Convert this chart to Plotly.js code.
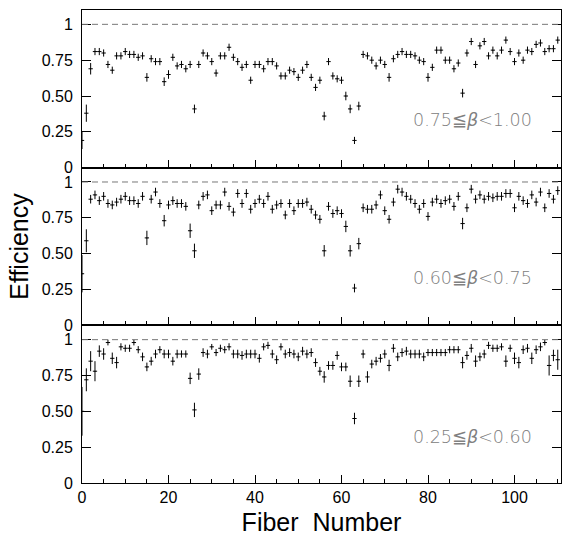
<!DOCTYPE html>
<html>
<head>
<meta charset="utf-8">
<script src="https://cdn.plot.ly/plotly-3.0.1.min.js"></script>
<style>html,body{margin:0;padding:0;background:#fff;}#chart{width:562px;height:536px;}</style>
</head>
<body>
<div id="chart"></div>
<script>
var fiber = [0,1,2,3,4,5,6,7,8,9,10,11,12,13,14,15,16,17,18,19,20,21,22,23,24,25,26,27,28,29,30,31,32,33,34,35,36,37,38,39,40,41,42,43,44,45,46,47,48,49,50,51,52,53,54,55,56,57,58,59,60,61,62,63,64,65,66,67,68,69,70,71,72,73,74,75,76,77,78,79,80,81,82,83,84,85,86,87,88,89,90,91,92,93,94,95,96,97,98,99,100,101,102,103,104,105,106,107,108,109,110];

// 0.75 <= beta < 1.00
var eff1 = [0.19,0.38,0.69,0.81,0.81,0.80,0.72,0.68,0.78,0.78,0.81,0.79,0.79,0.77,0.78,0.63,0.76,0.74,0.74,0.60,0.65,0.77,0.71,0.72,0.69,0.72,0.41,0.72,0.80,0.78,0.74,0.66,0.78,0.78,0.84,0.77,0.74,0.70,0.72,0.61,0.72,0.72,0.69,0.74,0.74,0.71,0.64,0.64,0.68,0.67,0.63,0.68,0.72,0.63,0.56,0.61,0.36,0.74,0.64,0.62,0.61,0.50,0.41,0.19,0.43,0.79,0.78,0.75,0.71,0.75,0.72,0.63,0.76,0.79,0.81,0.79,0.79,0.78,0.75,0.74,0.63,0.70,0.82,0.82,0.75,0.75,0.69,0.73,0.52,0.80,0.88,0.72,0.85,0.88,0.78,0.82,0.78,0.82,0.89,0.81,0.74,0.80,0.75,0.82,0.81,0.86,0.87,0.81,0.83,0.83,0.89];
var err1 = [0.06,0.06,0.04,0.025,0.025,0.025,0.025,0.025,0.025,0.025,0.025,0.025,0.025,0.025,0.025,0.03,0.025,0.025,0.025,0.03,0.03,0.025,0.025,0.025,0.025,0.025,0.03,0.025,0.025,0.025,0.025,0.025,0.025,0.025,0.025,0.025,0.025,0.025,0.025,0.025,0.025,0.025,0.025,0.025,0.025,0.025,0.025,0.025,0.025,0.025,0.025,0.025,0.025,0.025,0.025,0.025,0.03,0.025,0.025,0.025,0.025,0.03,0.03,0.025,0.03,0.025,0.025,0.025,0.025,0.025,0.025,0.03,0.025,0.025,0.025,0.025,0.025,0.025,0.025,0.025,0.03,0.025,0.025,0.025,0.025,0.025,0.025,0.025,0.03,0.025,0.025,0.025,0.025,0.025,0.025,0.025,0.025,0.025,0.025,0.025,0.025,0.025,0.025,0.025,0.025,0.025,0.025,0.025,0.025,0.025,0.025];

// 0.60 <= beta < 0.75
var eff2 = [0.36,0.59,0.88,0.91,0.87,0.90,0.85,0.84,0.86,0.88,0.90,0.87,0.87,0.85,0.90,0.61,0.88,0.93,0.85,0.73,0.84,0.87,0.85,0.85,0.83,0.66,0.52,0.84,0.90,0.91,0.80,0.84,0.84,0.93,0.83,0.79,0.92,0.85,0.92,0.81,0.85,0.88,0.85,0.90,0.81,0.84,0.85,0.77,0.85,0.80,0.85,0.85,0.86,0.81,0.77,0.74,0.52,0.83,0.78,0.80,0.78,0.69,0.52,0.26,0.57,0.82,0.81,0.81,0.84,0.91,0.80,0.74,0.86,0.95,0.93,0.90,0.88,0.85,0.81,0.85,0.76,0.86,0.88,0.85,0.87,0.88,0.83,0.90,0.71,0.82,0.95,0.88,0.91,0.88,0.90,0.89,0.90,0.90,0.92,0.92,0.82,0.90,0.87,0.85,0.91,0.86,0.93,0.82,0.92,0.88,0.94];
var err2 = [0.13,0.08,0.03,0.03,0.03,0.03,0.03,0.03,0.03,0.03,0.03,0.03,0.03,0.03,0.03,0.05,0.03,0.03,0.03,0.04,0.03,0.03,0.03,0.03,0.03,0.05,0.05,0.03,0.03,0.03,0.03,0.03,0.03,0.03,0.03,0.03,0.03,0.03,0.03,0.03,0.03,0.03,0.03,0.03,0.03,0.03,0.03,0.03,0.03,0.03,0.03,0.03,0.03,0.03,0.03,0.03,0.04,0.03,0.03,0.03,0.03,0.04,0.04,0.03,0.04,0.03,0.03,0.03,0.03,0.03,0.03,0.03,0.03,0.03,0.03,0.03,0.03,0.03,0.03,0.03,0.03,0.03,0.03,0.03,0.03,0.03,0.03,0.03,0.04,0.03,0.03,0.03,0.03,0.03,0.03,0.03,0.03,0.03,0.03,0.03,0.03,0.03,0.03,0.03,0.03,0.03,0.03,0.03,0.03,0.03,0.03];

// 0.25 <= beta < 0.60
var eff3 = [0.50,0.72,0.85,0.78,0.92,0.90,0.98,0.87,0.84,0.95,0.94,0.94,0.98,0.93,0.88,0.81,0.85,0.90,0.93,0.90,0.90,0.85,0.90,0.90,0.90,0.73,0.51,0.76,0.91,0.90,0.95,0.91,0.94,0.93,0.95,0.90,0.90,0.89,0.90,0.90,0.90,0.87,0.95,0.96,0.90,0.86,0.95,0.90,0.91,0.90,0.88,0.92,0.90,0.91,0.84,0.78,0.74,0.82,0.82,0.89,0.81,0.81,0.71,0.45,0.71,0.90,0.74,0.83,0.85,0.87,0.90,0.82,0.94,0.88,0.91,0.92,0.90,0.90,0.90,0.88,0.91,0.91,0.91,0.91,0.91,0.93,0.93,0.93,0.84,0.89,0.94,0.85,0.88,0.90,0.96,0.94,0.94,0.95,0.85,0.94,0.87,0.84,0.93,0.94,0.87,0.93,0.95,0.98,0.82,0.89,0.86];
var err3 = [0.17,0.08,0.07,0.07,0.04,0.04,0.02,0.04,0.04,0.025,0.025,0.025,0.02,0.025,0.03,0.03,0.03,0.03,0.025,0.03,0.03,0.03,0.03,0.025,0.025,0.04,0.05,0.04,0.03,0.03,0.02,0.025,0.025,0.025,0.025,0.03,0.03,0.03,0.03,0.03,0.03,0.03,0.025,0.025,0.03,0.03,0.025,0.03,0.03,0.03,0.03,0.03,0.03,0.03,0.03,0.03,0.04,0.03,0.03,0.03,0.03,0.03,0.04,0.04,0.04,0.03,0.04,0.03,0.03,0.03,0.03,0.04,0.03,0.03,0.03,0.03,0.03,0.03,0.03,0.03,0.025,0.025,0.025,0.025,0.025,0.025,0.025,0.025,0.04,0.03,0.03,0.04,0.03,0.03,0.025,0.025,0.025,0.025,0.04,0.025,0.04,0.04,0.03,0.03,0.04,0.03,0.03,0.02,0.07,0.04,0.07];

var panelLabels = ['0.75\u2266<i>\u03b2</i>&lt;1.00', '0.60\u2266<i>\u03b2</i>&lt;0.75', '0.25\u2266<i>\u03b2</i>&lt;0.60'];
var yTickVals = [0, 0.25, 0.5, 0.75, 1];
var yTickText = ['0', '0.25', '0.50', '0.75', '1'];
var xTickVals = [0, 20, 40, 60, 80, 100];

function trace(y, e, xa, ya) {
  return {
    x: fiber, y: y, xaxis: xa, yaxis: ya, type: 'scatter', mode: 'markers',
    marker: {size: 1, color: 'black'},
    error_x: {type: 'constant', value: 0.5, width: 0, thickness: 1, color: 'black'},
    error_y: {type: 'data', array: e, visible: true, width: 0, thickness: 1, color: 'black'},
    showlegend: false, hoverinfo: 'x+y'
  };
}

var data = [trace(eff1, err1, 'x', 'y'), trace(eff2, err2, 'x2', 'y2'), trace(eff3, err3, 'x3', 'y3')];

var font = {family: 'Liberation Sans, Arial, sans-serif', size: 16, color: 'black'};
function xax(anchor, labels) {
  return {
    anchor: anchor, range: [0, 110.75], tickvals: xTickVals, ticks: 'inside', ticklen: 8,
    tickwidth: 1, tickcolor: 'black', showticklabels: labels, showgrid: false, zeroline: false,
    showline: true, linecolor: 'black', linewidth: 1, mirror: true,
    minor: {dtick: 5, ticks: 'inside', ticklen: 4, tickcolor: 'black', showgrid: false},
    tickfont: font
  };
}
function yax(anchor, domain) {
  return {
    anchor: anchor, domain: domain, range: [0, 1.1], tickvals: yTickVals, ticktext: yTickText,
    ticks: 'inside', ticklen: 9, tickwidth: 1, tickcolor: 'black', showgrid: false, zeroline: false,
    showline: true, linecolor: 'black', linewidth: 1, mirror: 'ticks', tickfont: font,
    ticklabelstandoff: 5
  };
}

var layout = {
  width: 562, height: 536,
  margin: {l: 82, r: 1, t: 10, b: 53},
  paper_bgcolor: 'white', plot_bgcolor: 'white',
  font: font,
  xaxis: xax('y', false),
  xaxis2: xax('y2', false),
  xaxis3: xax('y3', true),
  yaxis: yax('x', [2/3, 1]),
  yaxis2: yax('x2', [1/3, 2/3]),
  yaxis3: yax('x3', [0, 1/3]),
  shapes: [],
  annotations: []
};
layout.xaxis3.title = {text: 'Fiber\u00a0\u00a0Number', font: {family: 'Liberation Sans, Arial, sans-serif', size: 25, color: 'black'}, standoff: 12};
layout.yaxis2.title = {text: 'Efficiency', font: {family: 'Liberation Sans, Arial, sans-serif', size: 25, color: 'black'}, standoff: 5};

var ys = ['y', 'y2', 'y3'];
var xs = ['x', 'x2', 'x3'];
var labelY = [0.335, 0.33, 0.32];
for (var i = 0; i < 3; i++) {
  layout.shapes.push({type: 'line', xref: xs[i] + ' domain', x0: 0, x1: 1, yref: ys[i], y0: 1, y1: 1,
    line: {color: '#777', width: 1, dash: '6px,4px'}});
  layout.annotations.push({xref: xs[i], yref: ys[i], x: 90.2, y: labelY[i], text: panelLabels[i], showarrow: false,
    xanchor: 'center', yanchor: 'middle',
    font: {family: 'DejaVu Sans, Liberation Sans, sans-serif', size: 17.5, weight: 200, color: '#808080'}});
}

Plotly.newPlot('chart', data, layout, {staticPlot: true, displayModeBar: false});
</script>
</body>
</html>
